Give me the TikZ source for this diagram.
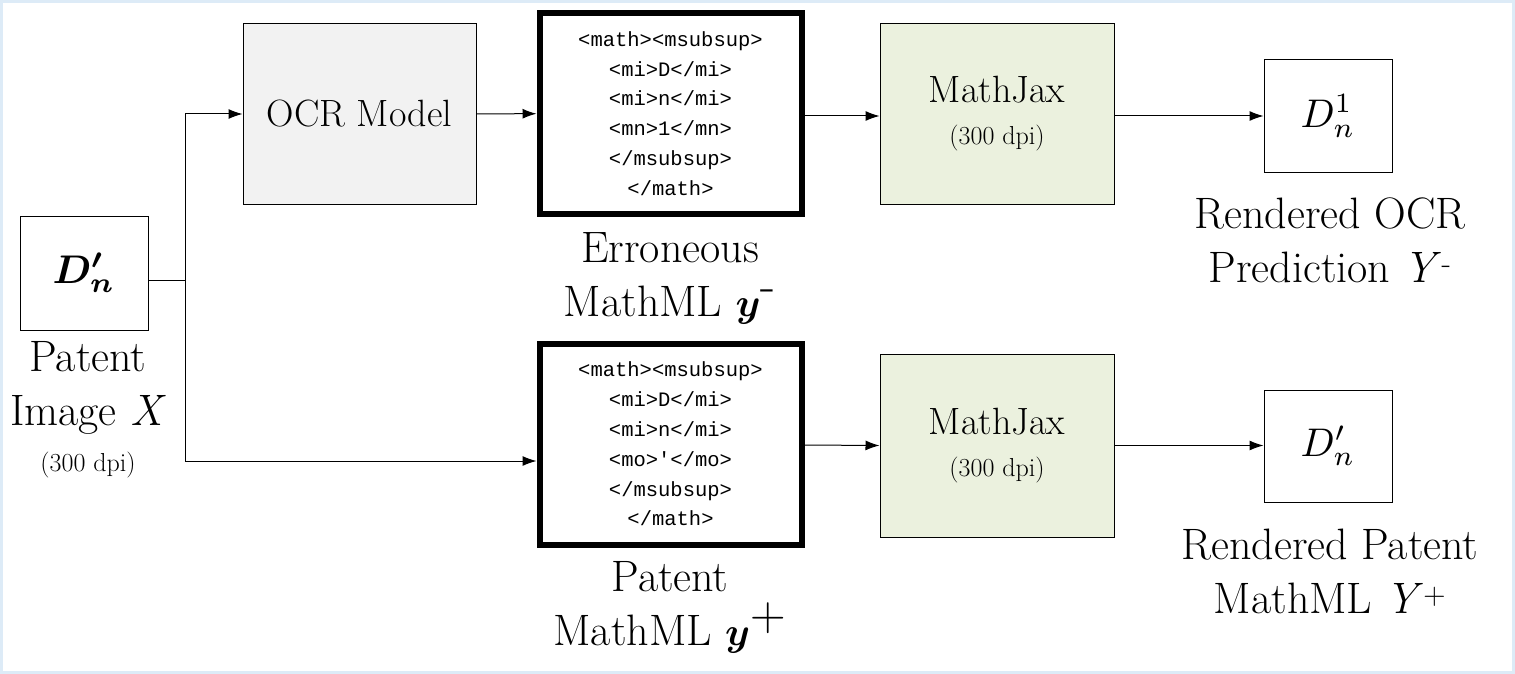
\documentclass[tikz,border=0pt]{standalone}
\usepackage{fontspec}
\usepackage{amsmath}
\usepackage{bm}
\usepackage{graphicx}
\usetikzlibrary{arrows.meta}
\setmonofont{Liberation Mono}
\definecolor{framecol}{HTML}{DDEBF7}
\definecolor{ocrgray}{HTML}{F2F2F2}
\definecolor{jaxgreen}{HTML}{EBF1DE}
\newcommand{\bigtxt}{\fontsize{44}{54}\selectfont}
\newcommand{\midtxt}{\fontsize{38}{46}\selectfont}
\newcommand{\smalltxt}{\fontsize{26}{30}\selectfont}
\newcommand{\codetxt}{\fontsize{20.5}{29.8}\selectfont\ttfamily}
\newcommand{\bigmath}[1]{\scalebox{4}{$#1$}}
\newcommand{\labmath}[1]{\scalebox{1.6}{$#1$}}
\begin{document}
\begin{tikzpicture}[x=1pt,y=-1pt,
  box/.style={draw, line width=1pt, minimum width=#1, inner sep=0pt},
  code/.style={draw, line width=6pt, minimum width=262pt, minimum height=201pt, align=center, font=\codetxt},
  lab/.style={align=center, font=\bigtxt, inner sep=0pt},
  arr/.style={-{Latex[length=14pt,width=10pt]}, line width=1pt}]
  % frame
  \draw[framecol, line width=3pt, fill=white] (1.5,1.5) rectangle (1513.5,672.5);
  \useasboundingbox (0,0) rectangle (1515,674);

  % input
  \node[box=128pt, minimum height=114pt] (img) at (84,273) {\bigmath{\bm{D'_n}}};
  \node[lab] (imglab) at (88,410) {Patent\\Image \textit{X}\\[-8pt]{\smalltxt(300 dpi)}};
  \coordinate (split) at (185,280);

  % top row
  \node[box=233pt, minimum height=180pt, fill=ocrgray, font=\midtxt] (ocr) at (359.5,114) {OCR Model};
  \node[code] (errml) at (670.5,113.5) {<math><msubsup>\\<mi>D</mi>\\<mi>n</mi>\\<mn>1</mn>\\</msubsup>\\</math>};
  \node[lab] (errlab) at (670,278) {Erroneous\\MathML \labmath{\bm{y}^{\text{-}}}};
  \node[box=234pt, minimum height=180pt, fill=jaxgreen, align=center, font=\midtxt] (jaxa) at (997,114) {MathJax\\[-4pt]{\smalltxt(300 dpi)}};
  \node[box=128pt, minimum height=112pt] (outa) at (1328,116) {\bigmath{D_n^1}};
  \node[lab] (outalab) at (1330,240) {Rendered OCR\\Prediction \textit{Y}\textsuperscript{-}};

  % bottom row
  \node[code] (patml) at (670.5,444) {<math><msubsup>\\<mi>D</mi>\\<mi>n</mi>\\<mo>'</mo>\\</msubsup>\\</math>};
  \node[lab] (patlab) at (670,607) {Patent\\MathML \labmath{\bm{y}^{\text{+}}}};
  \node[box=234pt, minimum height=183pt, fill=jaxgreen, align=center, font=\midtxt] (jaxb) at (997,445.5) {MathJax\\[-4pt]{\smalltxt(300 dpi)}};
  \node[box=128pt, minimum height=112pt] (outb) at (1328,446) {\bigmath{D'_n}};
  \node[lab] (outblab) at (1330,571) {Rendered Patent\\MathML \textit{Y}\textsuperscript{+}};

  % connectors
  \draw[line width=1pt] (img.east |- split) -- (split);
  \draw[arr] (split) |- (ocr.west);
  \draw[arr] (split) |- (patml.west |- 0,461);
  \draw[arr] (ocr) -- (errml);
  \draw[arr] (errml.east |- 0,116) -- (jaxa.west |- 0,116);
  \draw[arr] (jaxa.east |- 0,116) -- (outa.west);
  \draw[arr] (patml.east |- 0,445) -- (jaxb.west);
  \draw[arr] (jaxb.east) -- (outb.west |- jaxb.east);
\end{tikzpicture}
\end{document}
